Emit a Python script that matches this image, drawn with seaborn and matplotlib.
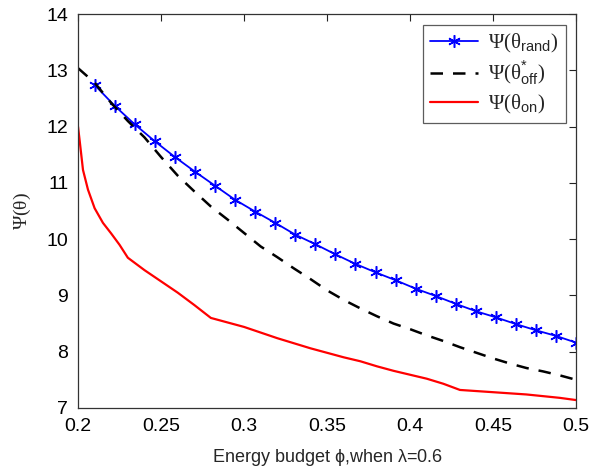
import numpy as np
import pandas as pd
import matplotlib
matplotlib.use('Agg')
import matplotlib.pyplot as plt
import seaborn as sns
from matplotlib.ticker import FuncFormatter

# values
x_rand = np.linspace(0.21, 0.5, 25)
psi_rand = [12.74, 12.37, 12.04, 11.74, 11.46, 11.20, 10.95, 10.70, 10.49, 10.29,
            10.08, 9.91, 9.73, 9.56, 9.41, 9.27, 9.12, 8.99, 8.85, 8.72,
            8.61, 8.49, 8.38, 8.28, 8.16]

x_off = [0.20, 0.21, 0.22, 0.23, 0.24, 0.25, 0.26, 0.27, 0.28, 0.29, 0.30,
         0.31, 0.32, 0.33, 0.34, 0.35, 0.36, 0.37, 0.38, 0.39, 0.40,
         0.41, 0.42, 0.43, 0.44, 0.45, 0.46, 0.47, 0.48, 0.49, 0.50]
psi_off = [13.04, 12.78, 12.42, 12.10, 11.81, 11.46, 11.13, 10.85, 10.58, 10.35, 10.11,
           9.87, 9.68, 9.48, 9.29, 9.09, 8.92, 8.77, 8.63, 8.50, 8.40,
           8.29, 8.19, 8.08, 7.98, 7.88, 7.79, 7.71, 7.65, 7.58, 7.50]

x_on = [0.200, 0.201, 0.203, 0.206, 0.210, 0.215, 0.220, 0.225, 0.230, 0.235,
        0.24, 0.25, 0.26, 0.27, 0.28, 0.29, 0.30, 0.31, 0.32, 0.33, 0.34,
        0.35, 0.36, 0.37, 0.38, 0.39, 0.40, 0.41, 0.42, 0.43, 0.44, 0.45,
        0.46, 0.47, 0.48, 0.49, 0.50]
psi_on = [12.00, 11.75, 11.23, 10.88, 10.55, 10.29, 10.10, 9.90, 9.67, 9.56,
          9.45, 9.25, 9.05, 8.83, 8.60, 8.52, 8.44, 8.34, 8.24, 8.15, 8.06,
          7.98, 7.90, 7.83, 7.74, 7.66, 7.59, 7.52, 7.43, 7.32, 7.30, 7.28,
          7.26, 7.24, 7.21, 7.18, 7.14]

labels = [r'$\mathrm{\Psi}(\mathrm{\theta}_{\mathsf{rand}})$',
          r'$\mathrm{\Psi}(\mathrm{\theta}^{\mathsf{*}}_{\mathsf{off}})$',
          r'$\mathrm{\Psi}(\mathrm{\theta}_{\mathsf{on}})$']

df_rand = pd.DataFrame({'phi': x_rand, 'psi': psi_rand})
df_off = pd.DataFrame({'phi': x_off, 'psi': psi_off})
df_on = pd.DataFrame({'phi': x_on, 'psi': psi_on})

sns.set_style('white')
plt.rcParams['font.family'] = ['Liberation Sans', 'DejaVu Sans']
plt.rcParams['mathtext.fontset'] = 'custom'
plt.rcParams['mathtext.rm'] = 'Liberation Serif'
plt.rcParams['mathtext.it'] = 'Liberation Serif:italic'
plt.rcParams['mathtext.sf'] = 'Liberation Sans'

fig, ax = plt.subplots(figsize=(5.91, 4.70), dpi=100)
fig.subplots_adjust(left=0.132, right=0.975, top=0.970, bottom=0.132)

sns.lineplot(data=df_rand, x='phi', y='psi', color='blue', marker=(6, 2, 0), markersize=9,
             markeredgecolor='blue', markeredgewidth=1.1, linewidth=1.3,
             label=labels[0], ax=ax)
sns.lineplot(data=df_off, x='phi', y='psi', color='black', linestyle=(0, (5, 4)),
             linewidth=1.8, label=labels[1], ax=ax)
sns.lineplot(data=df_on, x='phi', y='psi', color='red', linewidth=1.6,
             label=labels[2], ax=ax)

ax.set_xlim(0.2, 0.5)
ax.set_ylim(7, 14)
ax.set_xticks([0.2, 0.25, 0.3, 0.35, 0.4, 0.45, 0.5])
ax.set_yticks(range(7, 15))
ax.xaxis.set_major_formatter(FuncFormatter(lambda v, p: '%g' % v))
ax.tick_params(direction='in', length=5, width=0.8, labelsize=14, colors='#222222',
               top=True, right=True, labelcolor='black', pad=7)
for s in ax.spines.values():
    s.set_color('#333333')
    s.set_linewidth(0.9)

ax.set_xlabel(r'Energy budget $\mathsf{\phi}$,when $\mathsf{\lambda}$=0.6', fontsize=13,
              labelpad=9)
ax.set_ylabel(r'$\mathrm{\Psi}(\mathrm{\theta})$', fontsize=14, labelpad=10)

leg = ax.legend(loc='upper right', fontsize=15, frameon=True, fancybox=False,
                edgecolor='#333333', borderaxespad=0.5, handlelength=2.3,
                handletextpad=0.5, labelspacing=0.25, borderpad=0.35)
leg.get_frame().set_linewidth(0.9)

fig.savefig('out.png', dpi=100)
